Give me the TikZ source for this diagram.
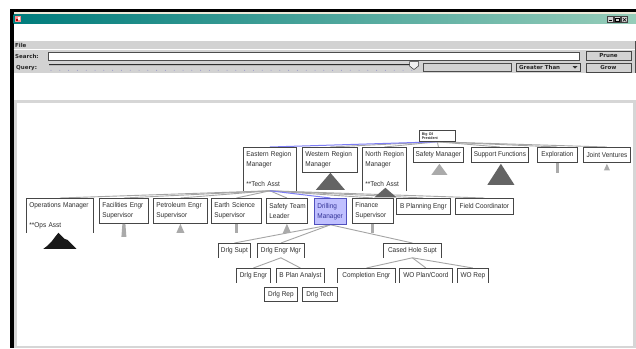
\documentclass[tikz,border=0pt]{standalone}
\usepackage{fontspec}
\setmainfont{Liberation Sans}
\newfontfamily\nodefont[FakeStretch=0.92]{Liberation Sans}
\newfontfamily\uifont{DejaVu Sans}
\usetikzlibrary{backgrounds}

\definecolor{titleA}{RGB}{0,124,124}
\definecolor{titleB}{RGB}{150,205,185}
\definecolor{framebeige}{RGB}{236,233,216}
\definecolor{uigray}{RGB}{210,210,210}
\definecolor{panelborder}{RGB}{214,214,214}
\definecolor{dotblue}{RGB}{140,140,200}
\definecolor{boxline}{RGB}{70,70,70}
\definecolor{nodetext}{RGB}{45,45,45}
\definecolor{edgegray}{RGB}{165,165,165}
\definecolor{edgeblue}{RGB}{125,125,245}
\definecolor{selfill}{RGB}{192,192,255}
\definecolor{selline}{RGB}{80,80,190}
\definecolor{seltext}{RGB}{50,50,150}
\definecolor{tridark}{RGB}{100,100,100}
\definecolor{trilight}{RGB}{170,170,170}

\pgfdeclarelayer{chrome}
\pgfdeclarelayer{links}
\pgfsetlayers{chrome,links,main}

\tikzset{
  org/.style={draw=boxline, line width=0.8pt, fill=white, anchor=north west,
    inner xsep=3pt, inner ysep=0pt, align=left, text=nodetext,
    font=\nodefont\fontsize{7}{10}\selectfont},
  openorg/.style={org, draw=none},
  sel/.style={org, fill=selfill, draw=selline, text=seltext},
  tag/.style={draw=boxline, line width=0.8pt, fill=white, anchor=north west,
    inner xsep=1.5pt, inner ysep=0pt, align=center, text=nodetext,
    font=\nodefont\fontsize{7}{10}\selectfont},
  opentag/.style={tag, draw=none},
  link/.style={draw=edgegray, line width=0.9pt},
  hilink/.style={draw=edgeblue, line width=1pt},
  uilabel/.style={font=\uifont\bfseries\fontsize{5.5}{6}\selectfont,
    text=black!85, inner sep=0pt},
  btn/.style={uilabel, draw=gray!55!black, fill=uigray, line width=0.6pt,
    minimum width=45pt, minimum height=9.5pt},
}

\begin{document}
\begin{tikzpicture}[x=1pt,y=-1pt]
\useasboundingbox (0,0) rectangle (636,348);

% ---------- application window ----------
\begin{pgfonlayer}{chrome}
  \fill[white] (0,0) rectangle (636,348);
  \fill[black] (10,9) rectangle (636,11.5);
  \fill[black] (10,9) rectangle (13.5,348);
  \fill[framebeige] (13.5,11.5) rectangle (636,14.5);
  \shade[left color=titleA, right color=titleB] (13.5,14.5) rectangle (636,23.8);
  % title bar icon
  \fill[red!45!white] (14.5,16) rectangle (20.5,22);
  \fill[red!70!black] (15.5,19) rectangle (17.5,21);
  \fill[white] (18,17) rectangle (20,19.5);
  % window buttons
  \foreach \bx in {607,614,621}
    \draw[fill=uigray, draw=gray!50!black, line width=0.4pt] (\bx,16.5) rectangle ++(6.5,6);
  \draw[line width=0.8pt] (608.5,20.8) -- (611.5,20.8);
  \draw[line width=0.5pt] (615.5,18) rectangle (619.5,21.5);
  \draw[line width=0.6pt] (622.8,18) -- (626.3,21.5) (626.3,18) -- (622.8,21.5);

  % menu bar and query controls
  \fill[uigray] (13.5,41) rectangle (636,72.5);
  \draw[gray!75, line width=0.4pt] (13.5,48.8) -- (636,48.8);
  \draw[white, line width=0.5pt] (13.5,49.4) -- (636,49.4);
  \draw[gray!60!black, line width=0.5pt] (635,41) -- (635,72.5);
  \node[uilabel, anchor=west] (file) at (15,45.3) {File};
  \node[uilabel, anchor=west] (searchlbl) at (15,56.2) {Search:};
  \draw[fill=white, draw=gray!60!black, line width=0.5pt] (48,52) rectangle (579,60);
  \node[btn] (prune) at (608.5,55.8) {Prune};
  \node[uilabel, anchor=west] (querylbl) at (16,67.8) {Query:};
  \fill[gray!55] (49,64.2) rectangle (413,66.2);
  \draw[gray!35!black, line width=0.4pt] (49,64.2) -- (413,64.2);
  \foreach \i in {0,...,41}
    \fill[dotblue] (51+8.8*\i,70.3) circle (0.45);
  \draw[fill=gray!12, draw=gray!40!black, line width=0.5pt]
    (409.5,61.5) -- (418.5,61.5) -- (418.5,66) -- (414,69.5) -- (409.5,66) -- cycle;
  \draw[fill=uigray, draw=gray!60!black, line width=0.5pt] (423,63) rectangle (511,71.5);
  \draw[fill=uigray, draw=gray!50!black, line width=0.5pt] (516,63) rectangle (580,71.5);
  \node[uilabel, anchor=west] (cmp) at (519,67.3) {Greater Than};
  \fill[black!80] (572.5,66) -- (577.5,66) -- (575,68.6) -- cycle;
  \node[btn] (grow) at (608.5,67.8) {Grow};

  % tree panel
  \fill[panelborder] (13.5,99.5) rectangle (636,348);
  \fill[white] (16.5,102.5) rectangle (633,345.5);
\end{pgfonlayer}

% ---------- org chart nodes ----------
\node[org, font=\nodefont\bfseries\fontsize{3.8}{4.3}\selectfont, inner xsep=2.5pt,
  text width=31pt, minimum height=11pt] (P) at (419,130) {Big~Oil\\President};

\node[openorg, text width=47pt, minimum height=43pt] (E) at (243,147)
  {\mbox{Eastern Region}\\Manager\\[10pt]\relax**\mbox{Tech Asst}};
\node[org, text width=49pt, minimum height=25pt] (W) at (302,147)
  {\mbox{Western Region}\\Manager};
\node[openorg, text width=38pt, minimum height=43pt] (N) at (362,147)
  {\mbox{North Region}\\Manager\\[10pt]\relax**\mbox{Tech Asst}};
\node[tag, minimum width=50pt, minimum height=15pt] (SM) at (413,147) {Safety Manager};
\node[tag, minimum width=57pt, minimum height=15pt] (SF) at (471,147) {Support Functions};
\node[tag, minimum width=40pt, minimum height=15pt] (EX) at (537,147) {Exploration};
\node[tag, minimum width=47pt, minimum height=15pt] (JV) at (583,147) {Joint Ventures};

\node[openorg, text width=61pt, minimum height=34pt] (OM) at (26,198)
  {\mbox{Operations Manager}\\[10pt]\relax**\mbox{Ops Asst}};
\node[org, text width=43pt, minimum height=25pt] (FE) at (99,198) {\mbox{Facilities Engr}\\Supervisor};
\node[org, text width=48pt, minimum height=25pt] (PE) at (153,198) {\mbox{Petroleum Engr}\\Supervisor};
\node[org, text width=44pt, minimum height=25pt] (ES) at (211,198) {\mbox{Earth Science}\\Supervisor};
\node[org, text width=35pt, minimum height=25pt] (ST) at (266,198) {\mbox{Safety Team}\\Leader};
\node[sel, text width=26pt, minimum height=26pt] (DM) at (314,198) {Drilling\\Manager};
\node[org, text width=35pt, minimum height=25pt] (FS) at (352,198) {Finance\\Supervisor};
\node[tag, minimum width=54pt, minimum height=16pt] (BP) at (396,198) {B Planning Engr};
\node[tag, minimum width=58pt, minimum height=16pt] (FC) at (455,198) {Field Coordinator};

\node[opentag, minimum width=32pt, minimum height=14pt] (DS) at (218,243) {Drlg Supt};
\node[opentag, minimum width=47pt, minimum height=14pt] (DE) at (257,243) {Drlg Engr Mgr};
\node[opentag, minimum width=58pt, minimum height=14pt] (CH) at (383,243) {Cased Hole Supt};

\node[opentag, minimum width=34pt, minimum height=14pt] (DG) at (236,268) {Drlg Engr};
\node[opentag, minimum width=48pt, minimum height=14pt] (BA) at (276,268) {B Plan Analyst};
\node[opentag, minimum width=58pt, minimum height=14pt] (CE) at (337,268) {Completion Engr};
\node[opentag, minimum width=53pt, minimum height=14pt] (WP) at (399,268) {WO Plan/Coord};
\node[opentag, minimum width=31pt, minimum height=14pt] (WR) at (457,268) {WO Rep};

\node[tag, minimum width=33pt, minimum height=14pt] (DR) at (264,287) {Drlg Rep};
\node[tag, minimum width=35pt, minimum height=14pt] (DT) at (302,287) {Drlg Tech};

% boxes whose lower edge is cut off
\foreach \n in {E,N,OM,DS,DE,CH,DG,BA,CE,WP,WR}
  \draw[boxline, line width=0.8pt] (\n.south west) |- (\n.north east) -- (\n.south east);

% ---------- connectors ----------
\begin{pgfonlayer}{links}
  \foreach \c in {W,N,SM,SF,EX,JV}
    \draw[link] (P.south) -- (\c.north);
  \foreach \c in {OM,FE,PE,ES,ST,FS,BP,FC}
    \draw[link] (E.south) -- (\c.north);
  \foreach \c in {DS,DE,CH}
    \draw[link] (DM.south) -- (\c.north);
  \foreach \c in {DG,BA}
    \draw[link] (DE.south) -- (\c.north);
  \foreach \c in {CE,WP,WR}
    \draw[link] (CH.south) -- (\c.north);
  \draw[hilink] (P.south) -- (E.north);
  \draw[hilink] (E.south) -- (DM.north);
\end{pgfonlayer}

% ---------- collapsed subtree markers ----------
\fill[tridark] (W.south) ++(0.5,0) -- ++(-14.5,17) -- ++(29,0) -- cycle;
\fill[tridark] (N.south) ++(1,-3) -- ++(-11,9.5) -- ++(22,0) -- cycle;
\fill[trilight] (SM.south) ++(1,1) -- ++(-8,11) -- ++(16,0) -- cycle;
\fill[tridark] (SF.south) ++(1,1) -- ++(-13.5,21) -- ++(27,0) -- cycle;
\fill[trilight] (EX.south) ++(-1.5,0) rectangle ++(3,10);
\fill[trilight] (JV.south) ++(0,1) -- ++(-3,6.5) -- ++(6,0) -- cycle;
\fill[black!90] (OM.south) ++(-1.5,0) -- ++(3,3) -- ++(3,3) -- ++(3,1) -- ++(3,3)
  -- ++(6,6) -- ++(-33,0) -- ++(4,-3) -- ++(4,-4) -- ++(3,-4) -- cycle;
\fill[trilight] (FE.south) ++(-1.5,0) -- ++(3,0) -- ++(1,13) -- ++(-5,0) -- cycle;
\fill[trilight] (PE.south) -- ++(-4,9) -- ++(8,0) -- cycle;
\fill[trilight] (ES.south) ++(-1.5,0) rectangle ++(3,9);
\fill[trilight] (ST.south) -- ++(-4,9) -- ++(8,0) -- cycle;
\fill[trilight] (FS.south) ++(-1.5,0) rectangle ++(3,9);
\end{tikzpicture}
\end{document}
